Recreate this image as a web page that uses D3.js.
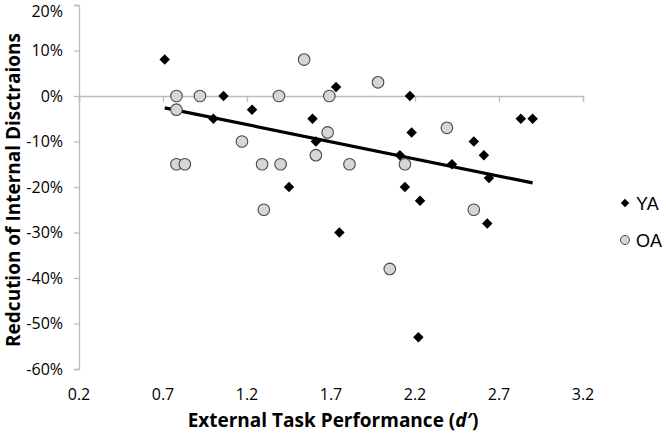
<!DOCTYPE html>
<html>
<head>
<meta charset="utf-8">
<title>Reduction of internal distractions vs external task performance</title>
<style>
  body { margin: 0; background: #fff; }
  text { font-family: "Open Sans", "Noto Sans", sans-serif; }
</style>
</head>
<body>
<script src="https://cdn.jsdelivr.net/npm/d3@7"></script>
<script>
// data: d' and reduction (%)
var yaX = [0.71, 1.06, 1.23, 1.00, 1.59, 1.73, 1.61, 1.45, 2.17, 2.18, 2.11, 2.42, 2.55, 2.61, 2.64, 2.83, 2.90, 2.14, 2.23, 1.75, 2.63, 2.22];
var yaY = [8, 0, -3, -5, -5, 2, -10, -20, 0, -8, -13, -15, -10, -13, -18, -5, -5, -20, -23, -30, -28, -53];

var oaX = [0.78, 0.78, 0.92, 1.39, 1.54, 1.69, 1.17, 1.68, 1.61, 0.78, 0.83, 1.29, 1.40, 1.81, 1.98, 2.39, 2.14, 1.30, 2.55, 2.05];
var oaY = [0, -3, 0, 0, 8, 0, -10, -8, -13, -15, -15, -15, -15, -15, 3, -7, -15, -25, -25, -38];

// trend line end points
var fitX = [0.71, 2.90];
var fitY = [-2.6, -19.1];

var xTicks = [0.2, 0.7, 1.2, 1.7, 2.2, 2.7, 3.2];
var yTicks = [20, 10, 0, -10, -20, -30, -40, -50, -60];
var seriesNames = ["YA", "OA"];

var width = 666, height = 434;

var svg = d3.select("body")
    .append("svg")
    .attr("width", width)
    .attr("height", height);

var x = d3.scaleLinear().domain([0.2, 3.2]).range([79, 583]);
var y = d3.scaleLinear().domain([20, -60]).range([5, 369]);

var axisColor = "#bdbdbd";

// y axis (left)
var yAxis = svg.append("g")
    .attr("transform", "translate(" + x(0.2) + ",0)")
    .call(d3.axisLeft(y).tickValues(yTicks).tickSize(5).tickFormat(function(d){ return d + "%"; }));
yAxis.select(".domain").attr("stroke", axisColor).attr("stroke-width", 1.3);
yAxis.selectAll(".tick line").attr("stroke", axisColor).attr("stroke-width", 1.3);
yAxis.selectAll(".tick text")
    .attr("x", -16)
    .attr("font-size", 16)
    .attr("fill", "#000");
// top label is pushed down so it is not clipped
yAxis.selectAll(".tick text")
    .filter(function(d){ return d === 20; })
    .attr("y", 6);

// x axis sits at 0%
var xAxis = svg.append("g")
    .attr("transform", "translate(0," + y(0) + ")")
    .call(d3.axisBottom(x).tickValues(xTicks).tickSize(6).tickFormat(""));
xAxis.select(".domain").attr("stroke", axisColor).attr("stroke-width", 1.3);
xAxis.selectAll(".tick line").attr("stroke", axisColor).attr("stroke-width", 1.3);

// x tick labels at bottom of the plot
svg.selectAll(".xlab")
    .data(xTicks)
    .enter()
    .append("text")
    .attr("class", "xlab")
    .attr("x", function(d){ return x(d); })
    .attr("y", 400)
    .attr("text-anchor", "middle")
    .attr("font-size", 16)
    .text(function(d){ return d3.format(".1f")(d); });

// trend line
svg.append("line")
    .attr("x1", x(fitX[0]))
    .attr("y1", y(fitY[0]))
    .attr("x2", x(fitX[1]))
    .attr("y2", y(fitY[1]))
    .attr("stroke", "#000")
    .attr("stroke-width", 3.2);

var diamond = d3.symbol().type(d3.symbolSquare).size(55);

// OA circles
svg.selectAll(".oa")
    .data(oaX)
    .enter()
    .append("circle")
    .attr("class", "oa")
    .attr("cx", function(d){ return x(d); })
    .attr("cy", function(d, i){ return y(oaY[i]); })
    .attr("r", 5.8)
    .attr("fill", "#d6d6d6")
    .attr("stroke", "#4a4a4a")
    .attr("stroke-width", 1.1);

// YA diamonds
svg.selectAll(".ya")
    .data(yaX)
    .enter()
    .append("path")
    .attr("class", "ya")
    .attr("d", diamond)
    .attr("transform", function(d, i){ return "translate(" + x(d) + "," + y(yaY[i]) + ") rotate(45)"; })
    .attr("fill", "#000");

// legend
svg.append("path")
    .attr("d", d3.symbol().type(d3.symbolSquare).size(36))
    .attr("transform", "translate(625,203) rotate(45)")
    .attr("fill", "#000");
svg.append("circle")
    .attr("cx", 625)
    .attr("cy", 240)
    .attr("r", 4.5)
    .attr("fill", "#d6d6d6")
    .attr("stroke", "#4a4a4a")
    .attr("stroke-width", 1);
svg.selectAll(".leg")
    .data(seriesNames)
    .enter()
    .append("text")
    .attr("class", "leg")
    .attr("x", 636)
    .attr("y", function(d, i){ return 210 + i * 37; })
    .style("font-family", "'Liberation Sans', Arial, sans-serif")
    .attr("font-size", 18)
    .text(function(d){ return d; });

// axis titles
var xTitle = svg.append("text")
    .attr("x", 333)
    .attr("y", 427)
    .attr("text-anchor", "middle")
    .attr("font-size", 19)
    .attr("font-weight", "bold");
xTitle.append("tspan").text("External Task Performance (");
xTitle.append("tspan").attr("font-style", "italic").text("d\u2032");
xTitle.append("tspan").text(")");

svg.append("text")
    .attr("transform", "translate(20,190) rotate(-90)")
    .attr("text-anchor", "middle")
    .attr("font-size", 19)
    .attr("font-weight", "bold")
    .text("Redcution of Internal Disctraions");
</script>
</body>
</html>
